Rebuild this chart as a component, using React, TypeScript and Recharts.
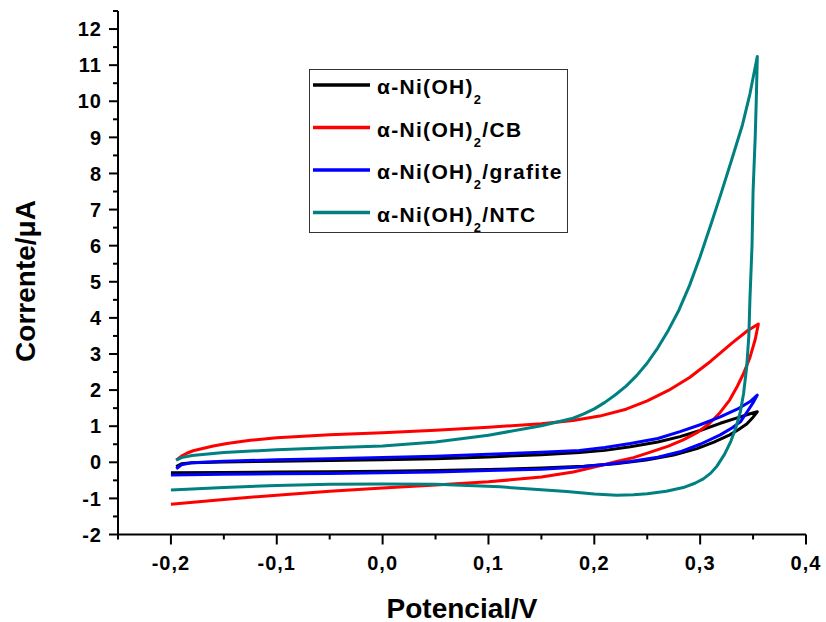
import React from "react";
import { LineChart, Line, XAxis, YAxis, Legend } from "recharts";

// tick values
const xMajorTicks = [-0.2, -0.1, 0, 0.1, 0.2, 0.3, 0.4];
const xMinorTicks = [-0.25, -0.15, -0.05, 0.05, 0.15, 0.25, 0.35];
const yMajorTicks = [-2, -1, 0, 1, 2, 3, 4, 5, 6, 7, 8, 9, 10, 11, 12];
const yMinorTicks = [-1.5, -0.5, 0.5, 1.5, 2.5, 3.5, 4.5, 5.5, 6.5, 7.5, 8.5, 9.5, 10.5, 11.5, 12.5];

// series labels / colours
const seriesSuffix = ["", "/CB", "/grafite", "/NTC"];
const seriesColors = ["#000000", "#ff0000", "#0000ff", "#008080"];

// cyclic voltammograms, [potential V, current uA]
const alphaNi: [number, number][] = [
  [-0.195, -0.12], [-0.19, -0.04], [-0.18, -0.01], [-0.15, 0.01], [-0.1, 0.03], [-0.05, 0.05],
  [0, 0.07], [0.05, 0.1], [0.1, 0.15], [0.15, 0.21], [0.186, 0.27], [0.21, 0.33], [0.234, 0.43],
  [0.26, 0.56], [0.281, 0.71], [0.3, 0.88], [0.319, 1.08], [0.335, 1.23], [0.348, 1.35], [0.354, 1.4],
  [0.35, 1.25], [0.344, 1.06], [0.336, 0.9], [0.328, 0.76], [0.313, 0.56], [0.297, 0.38], [0.275, 0.2],
  [0.249, 0.06], [0.22, -0.04], [0.19, -0.11], [0.15, -0.16], [0.1, -0.2], [0.05, -0.23], [0, -0.25],
  [-0.05, -0.26], [-0.1, -0.27], [-0.15, -0.28], [-0.2, -0.29],
];

const alphaNiCB: [number, number][] = [
  [-0.195, 0.06], [-0.19, 0.17], [-0.185, 0.25], [-0.179, 0.32], [-0.16, 0.45], [-0.147, 0.52],
  [-0.125, 0.61], [-0.1, 0.68], [-0.05, 0.76], [0, 0.82], [0.05, 0.89], [0.1, 0.97], [0.15, 1.07],
  [0.18, 1.16], [0.205, 1.28], [0.23, 1.47], [0.25, 1.7], [0.27, 1.99], [0.29, 2.35], [0.31, 2.8],
  [0.33, 3.3], [0.345, 3.65], [0.355, 3.83],
  [0.352, 3.4], [0.347, 2.9], [0.341, 2.46], [0.335, 2.1], [0.328, 1.73], [0.318, 1.35], [0.309, 1.08],
  [0.297, 0.82], [0.284, 0.62], [0.27, 0.45], [0.253, 0.28], [0.237, 0.13], [0.221, 0.02], [0.205, -0.1],
  [0.18, -0.27], [0.15, -0.41], [0.1, -0.54], [0.05, -0.63], [0, -0.71], [-0.05, -0.8], [-0.1, -0.91],
  [-0.15, -1.03], [-0.2, -1.16],
];

const alphaNiGrafite: [number, number][] = [
  [-0.195, -0.18], [-0.19, -0.07], [-0.18, -0.01], [-0.15, 0.03], [-0.1, 0.07], [-0.05, 0.1],
  [0, 0.13], [0.05, 0.17], [0.1, 0.22], [0.15, 0.28], [0.186, 0.33], [0.21, 0.41], [0.234, 0.52],
  [0.26, 0.66], [0.281, 0.85], [0.3, 1.04], [0.319, 1.26], [0.335, 1.47], [0.348, 1.7], [0.354, 1.86],
  [0.35, 1.65], [0.344, 1.38], [0.338, 1.12], [0.33, 0.95], [0.319, 0.76], [0.3, 0.5], [0.281, 0.29],
  [0.26, 0.14], [0.234, 0.02], [0.21, -0.06], [0.186, -0.13], [0.15, -0.19], [0.1, -0.23], [0.05, -0.27],
  [0, -0.29], [-0.05, -0.31], [-0.1, -0.32], [-0.15, -0.33], [-0.2, -0.35],
];

const alphaNiNTC: [number, number][] = [
  [-0.195, 0.06], [-0.19, 0.13], [-0.18, 0.19], [-0.15, 0.27], [-0.1, 0.35], [-0.05, 0.4], [0, 0.45],
  [0.05, 0.56], [0.1, 0.75], [0.15, 1.01], [0.18, 1.22], [0.19, 1.34], [0.2, 1.48], [0.21, 1.66],
  [0.22, 1.87], [0.23, 2.11], [0.24, 2.4], [0.25, 2.75], [0.26, 3.17], [0.27, 3.66], [0.28, 4.22],
  [0.29, 4.9], [0.3, 5.7], [0.31, 6.57], [0.32, 7.47], [0.33, 8.4], [0.34, 9.35], [0.347, 10.2],
  [0.354, 11.24],
  [0.353, 10.0], [0.352, 9.0], [0.35, 7.5], [0.349, 6.0], [0.347, 4.5], [0.346, 3.5], [0.344, 2.65],
  [0.341, 1.9], [0.338, 1.4], [0.334, 0.98], [0.329, 0.58], [0.323, 0.22], [0.316, -0.1], [0.31, -0.3],
  [0.303, -0.46], [0.295, -0.58], [0.284, -0.7], [0.268, -0.8], [0.25, -0.87], [0.237, -0.9],
  [0.221, -0.91], [0.2, -0.88], [0.174, -0.81], [0.15, -0.76], [0.111, -0.68], [0.05, -0.61], [0, -0.6],
  [-0.05, -0.61], [-0.1, -0.64], [-0.15, -0.7], [-0.2, -0.77],
];

const seriesData = [alphaNi, alphaNiCB, alphaNiGrafite, alphaNiNTC];

const FONT = "Arial, 'Liberation Sans', sans-serif";

const isMajor = (list: number[], v: number) => list.some((t) => Math.abs(t - v) < 1e-9);
const fmtX = (v: number) => v.toFixed(1).replace(".", ",");

const XTick = (props: any) => {
  const { x, y, payload } = props;
  const major = isMajor(xMajorTicks, payload.value);
  return (
    <g>
      <line x1={x} x2={x} y1={y} y2={y + (major ? 10 : 5)} stroke="#000" strokeWidth={2} />
      {major && (
        <text x={x} y={y + 35} textAnchor="middle" fontFamily={FONT} fontWeight="bold" fontSize={20} letterSpacing={1} fill="#000">
          {fmtX(payload.value)}
        </text>
      )}
    </g>
  );
};

const YTick = (props: any) => {
  const { x, y, payload } = props;
  const major = isMajor(yMajorTicks, payload.value);
  return (
    <g>
      <line x1={x} x2={x - (major ? 9 : 5)} y1={y} y2={y} stroke="#000" strokeWidth={2} />
      {major && (
        <text x={x - 16} y={y} dy="0.36em" textAnchor="end" fontFamily={FONT} fontWeight="bold" fontSize={20} letterSpacing={1} fill="#000">
          {payload.value}
        </text>
      )}
    </g>
  );
};

const LegendBox = () => (
  <svg width={259} height={164} style={{ display: "block" }}>
    <rect x={0.5} y={0.5} width={258} height={163} fill="#fff" stroke="#333" strokeWidth={1} />
    {seriesSuffix.map((suffix, i) => {
      const base = 25 + i * 42.5;
      return (
        <g key={i}>
          <line x1={4} x2={61} y1={base - 9} y2={base - 9} stroke={seriesColors[i]} strokeWidth={3.5} />
          <text x={68} y={base} fontFamily={FONT} fontWeight="bold" fontSize={21} letterSpacing={1.3} fill="#000">
            α-Ni(OH)
            <tspan fontSize={13} dy={10}>2</tspan>
            <tspan dy={-10}>{suffix}</tspan>
          </text>
        </g>
      );
    })}
  </svg>
);

export default function App() {
  return (
    <div style={{ position: "absolute", left: 0, top: 0, width: 826, height: 622, background: "#fff" }}>
      <LineChart width={826} height={622} margin={{ top: 11, right: 20, left: 0, bottom: 0 }}>
        <XAxis
          type="number"
          dataKey="x"
          domain={[-0.25, 0.4]}
          ticks={[...xMinorTicks, ...xMajorTicks].sort((a, b) => a - b)}
          interval={0}
          height={87.5}
          tickSize={0}
          tickMargin={0}
          tickLine={false}
          axisLine={{ stroke: "#000", strokeWidth: 2 }}
          tick={<XTick />}
          allowDataOverflow
          label={(p: any) => {
            const vb = p.viewBox || { x: 118, y: 534.5, width: 688 };
            return (
              <text x={vb.x + vb.width / 2} y={vb.y + 83} textAnchor="middle" fontFamily={FONT} fontWeight="bold" fontSize={28} fill="#000">
                Potencial/V
              </text>
            );
          }}
        />
        <YAxis
          type="number"
          dataKey="y"
          domain={[-2, 12.5]}
          ticks={[...yMinorTicks, ...yMajorTicks].sort((a, b) => a - b)}
          interval={0}
          width={118}
          tickSize={0}
          tickMargin={0}
          tickLine={false}
          axisLine={{ stroke: "#000", strokeWidth: 2 }}
          tick={<YTick />}
          allowDataOverflow
          label={(p: any) => {
            const vb = p.viewBox || { x: 0, y: 11, height: 523.5 };
            const cx = vb.x + 35;
            const cy = 281;
            return (
              <text x={cx} y={cy} textAnchor="middle" transform={`rotate(-90, ${cx}, ${cy})`} fontFamily={FONT} fontWeight="bold" fontSize={28} fill="#000">
                Corrente/μA
              </text>
            );
          }}
        />
        <Legend
          layout="vertical"
          align="center"
          verticalAlign="middle"
          wrapperStyle={{ left: 309, top: 69, width: 259, height: 164 }}
          content={() => <LegendBox />}
        />
        {seriesData.map((pts, i) => (
          <Line
            key={i}
            data={pts.map(([x, y]) => ({ x, y }))}
            dataKey="y"
            type="linear"
            stroke={seriesColors[i]}
            strokeWidth={3}
            strokeLinejoin="round"
            dot={false}
            activeDot={false}
            isAnimationActive={false}
            name={`α-Ni(OH)2${seriesSuffix[i]}`}
          />
        ))}
      </LineChart>
    </div>
  );
}
